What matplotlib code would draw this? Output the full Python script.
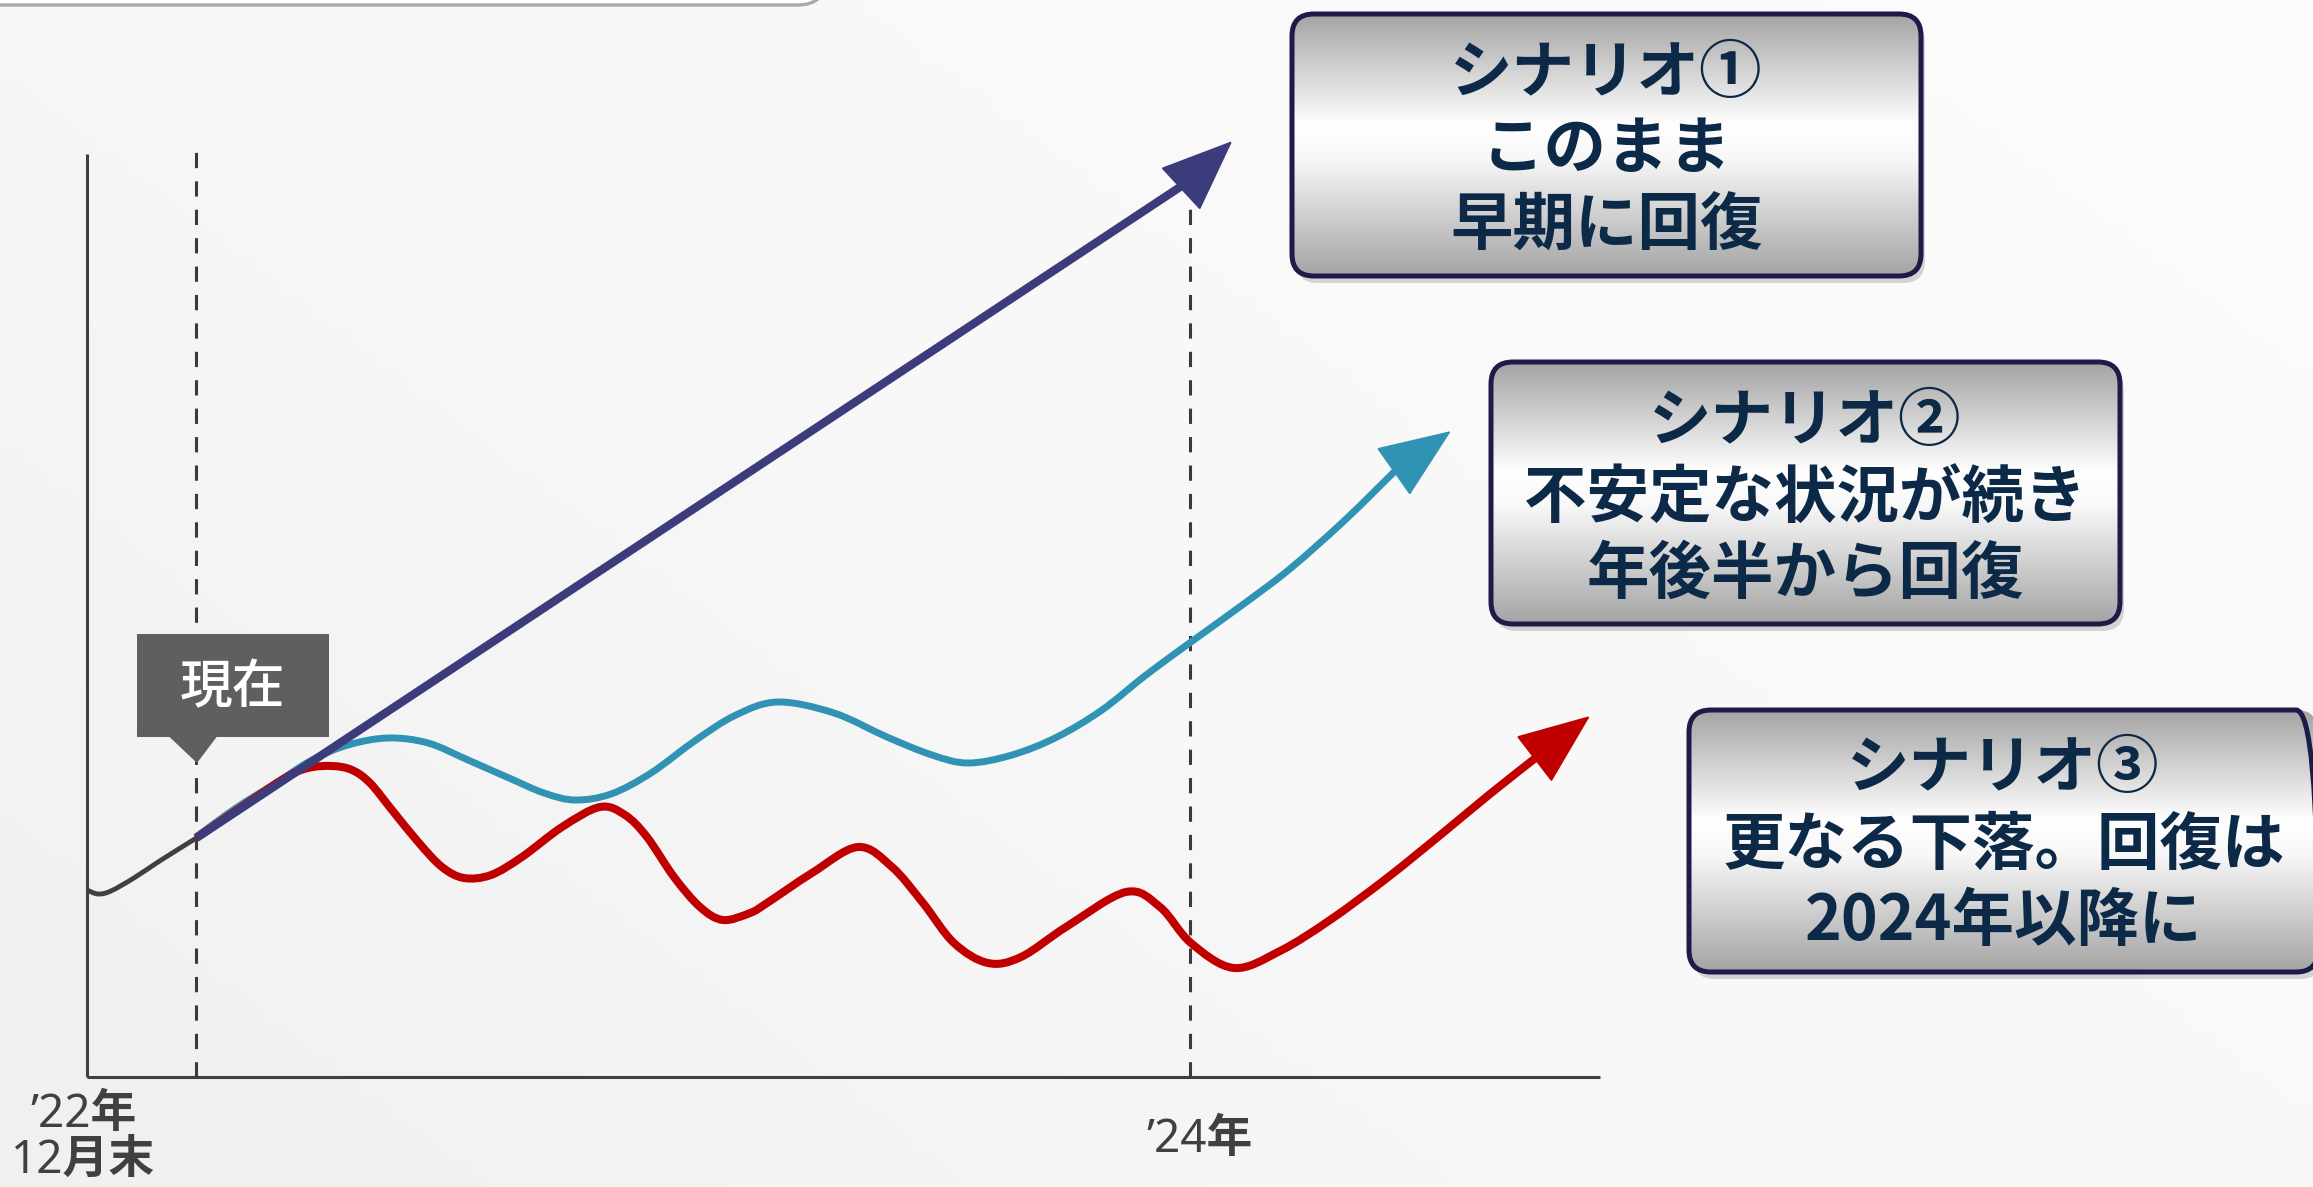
import numpy as np
import matplotlib.pyplot as plt
from matplotlib.patches import FancyBboxPatch, Polygon, Rectangle, PathPatch
from matplotlib.path import Path
from matplotlib.colors import LinearSegmentedColormap

plt.rcParams['font.family'] = ['Noto Sans CJK JP', 'DejaVu Sans']

W, H = 2313, 1187

# x: months after end of Dec 2022 ('24年 = 12), y: index level (x-axis = 0)
now_x = 1.19
y2024_x = 12.0
axis_top = 92.3
axis_right = 16.46
now_line_top = 92.9
y2024_line_top = 92.0

# actual path until now
actual_x = [0.0, 0.12, 0.26, 0.51, 0.79, 1.19]
actual_y = [18.7, 18.3, 18.6, 19.9, 21.6, 23.9]

# scenario 1: straight recovery
s1_x = [1.19, 11.99]
s1_y = [23.9, 89.6]
s1_tip = (12.46, 93.6)

# scenario 2: unstable, recovery in second half
s2_x = [1.186, 1.621, 2.056, 2.448, 2.839, 3.275, 3.710, 4.145, 4.591, 4.972,
        5.309, 5.701, 6.136, 6.625, 7.060, 7.517, 8.127, 8.703, 9.193, 9.584,
        10.063, 10.553, 11.042, 11.521, 12.010, 12.598, 13.098, 13.686, 14.252]
s2_y = [24.0, 26.9, 29.4, 31.7, 33.2, 33.9, 33.4, 31.7, 29.9, 28.4,
        27.7, 28.3, 30.4, 33.7, 36.2, 37.5, 36.4, 34.0, 32.2, 31.4,
        32.2, 34.0, 36.7, 40.2, 43.5, 47.4, 50.9, 55.7, 60.8]
s2_tip = (14.839, 64.6)

# scenario 3: further decline, recovery after 2024
s3_x = [1.186, 1.664, 2.154, 2.404, 2.665, 2.883, 3.079, 3.318, 3.612, 3.862,
        4.101, 4.395, 4.732, 5.168, 5.581, 5.853, 6.092, 6.386, 6.669, 6.919,
        7.213, 7.398, 7.887, 8.388, 8.758, 9.095, 9.432, 9.802, 10.161, 10.651,
        11.303, 11.673, 12.010, 12.478, 12.979, 13.523, 14.143, 14.763, 15.263,
        15.786]
s3_y = [23.9, 26.9, 29.9, 30.9, 31.1, 30.7, 29.4, 26.7, 23.4, 21.0,
        19.9, 20.2, 22.0, 25.0, 27.0, 26.2, 24.0, 20.0, 17.0, 15.7,
        16.4, 17.4, 20.4, 23.0, 21.0, 17.4, 13.4, 11.4, 12.0, 15.0,
        18.5, 17.0, 13.4, 10.9, 12.6, 15.7, 19.9, 24.5, 28.3,
        32.1]
s3_tip = (16.351, 36.1)

x_labels = ['’22年\n12月末', '’24年']

box_lines = [['シナリオ①', 'このまま', '早期に回復'],
             ['シナリオ②', '不安定な状況が続き', '年後半から回復'],
             ['シナリオ③', '更なる下落。回復は', '2024年以降に']]

navy = '#3c3c7c'
teal = '#3193b4'
red = '#c00000'
axis_c = '#404040'


# smooth curve through the read points (Catmull-Rom as cubic Bezier path)
def smooth_path(xs, ys):
    pts = np.column_stack([xs, ys])
    verts = [pts[0]]
    codes = [Path.MOVETO]
    for i in range(len(pts) - 1):
        p0 = pts[i - 1] if i > 0 else pts[i]
        p1 = pts[i]
        p2 = pts[i + 1]
        p3 = pts[i + 2] if i + 2 < len(pts) else pts[i + 1]
        verts += [p1 + (p2 - p0) / 6, p2 - (p3 - p1) / 6, p2]
        codes += [Path.CURVE4] * 3
    return Path(verts, codes)


fig = plt.figure(figsize=(W / 100, H / 100), dpi=100)
ax = fig.add_axes([0, 0, 1, 1])
ax.set_axis_off()

# background
bg_cmap = LinearSegmentedColormap.from_list('bg', ['#f0f0f0', '#f8f8f8', '#fcfcfc'])
gx, gy = np.meshgrid(np.linspace(0, 1, 200), np.linspace(0, 1, 100))
ax.imshow(gx * 0.6 + (1 - gy) * 0.4, cmap=bg_cmap, extent=[0, 1, 0, 1],
          transform=ax.transAxes, aspect='auto', zorder=0, origin='upper')

# partial frame at top-left
ax.add_patch(FancyBboxPatch((-0.02, 1 - 5 / H), 0.377, 0.1,
                            boxstyle='round,pad=0,rounding_size=0.012',
                            mutation_aspect=W / H, transform=ax.transAxes,
                            fc='#ffffff', ec='#a9a9a9', lw=2.4, zorder=1,
                            clip_on=False))

# axes lines
ax.plot([0, 0], [0, axis_top], color=axis_c, lw=2.2, zorder=2,
        solid_capstyle='butt')
ax.plot([0, axis_right], [0, 0], color=axis_c, lw=2.2, zorder=2,
        solid_capstyle='butt')
ax.plot([now_x, now_x], [0, now_line_top], color='#3a3a3a', lw=2.2,
        dashes=(5, 4.3), zorder=2)
ax.plot([y2024_x, y2024_x], [0, y2024_line_top], color='#3a3a3a', lw=2.2,
        dashes=(5, 4.3), zorder=2)

# curves
ax.add_patch(PathPatch(smooth_path(actual_x, actual_y), fill=False,
                       ec='#404040', lw=3.5, zorder=3, capstyle='butt'))
ax.add_patch(PathPatch(smooth_path(s2_x, s2_y), fill=False, ec=teal, lw=5.0,
                       zorder=3, joinstyle='round', capstyle='butt'))
ax.add_patch(PathPatch(smooth_path(s3_x, s3_y), fill=False, ec=red, lw=5.8,
                       zorder=3.2, joinstyle='round', capstyle='butt'))
ax.plot(s1_x, s1_y, color=navy, lw=6.0, zorder=3.5, solid_capstyle='butt')


def head(start, tip, color):
    ax.annotate('', xy=tip, xytext=start, xycoords='data',
                arrowprops=dict(arrowstyle='-|>,head_length=2.4,head_width=0.97',
                                color=color, lw=1.5, shrinkA=0, shrinkB=0,
                                mutation_scale=20), zorder=3.6)


head((s1_x[-1], s1_y[-1]), s1_tip, navy)
head((s2_x[-1], s2_y[-1]), s2_tip, teal)
head((s3_x[-1], s3_y[-1]), s3_tip, red)

# "現在" marker
ax.add_patch(Rectangle((0.544, 34.0), 2.089, 10.3, fc='#5f5f5f', ec='none', zorder=4))
ax.add_patch(Polygon([(0.892, 34.05), (1.414, 34.05), (1.197, 31.4)], closed=True,
                     fc='#5f5f5f', ec='none', zorder=4))
ax.text(1.577, 38.9, '現在', color='white', fontsize=38, fontweight='medium',
        ha='center', va='center', zorder=5)

# x labels
lab_font = ['Noto Sans', 'Noto Sans CJK JP']
ax.text(-0.04, -6.1, x_labels[0], color=axis_c, fontsize=33, fontweight='bold',
        ha='center', va='center', family=lab_font, linespacing=1.0)
ax.text(12.10, -6.3, x_labels[1], color=axis_c, fontsize=33, fontweight='bold',
        ha='center', va='center', family=lab_font)

# scenario boxes
box_cmap = LinearSegmentedColormap.from_list(
    'box', [(0, '#a4a4a4'), (0.42, '#ffffff'), (0.55, '#f8f8f8'), (1, '#a4a4a4')])
grad = np.linspace(0, 1, 256).reshape(-1, 1)

box_px = [(1292, 14), (1491, 362), (1689, 710)]
box_w, box_h = 629, 262
line_mid_px = [150, 498, 845]
line_gap = 76.5

for (bx, by), lines, mid in zip(box_px, box_lines, line_mid_px):
    x0 = bx / W
    y0 = 1 - (by + box_h) / H
    w = box_w / W
    h = box_h / H
    style = 'round,pad=0,rounding_size=0.0095'
    shadow = FancyBboxPatch((x0 + 4 / W, y0 - 7 / H), w, h, boxstyle=style,
                            mutation_aspect=W / H, transform=ax.transAxes,
                            fc='#8c8c8c', ec='none', alpha=0.35, zorder=5)
    ax.add_patch(shadow)
    frame = FancyBboxPatch((x0, y0), w, h, boxstyle=style, mutation_aspect=W / H,
                           transform=ax.transAxes, fc='none', ec='#1d1b47',
                           lw=3.6, zorder=7)
    ax.add_patch(frame)
    img = ax.imshow(grad, cmap=box_cmap, extent=[x0, x0 + w, y0, y0 + h],
                    transform=ax.transAxes, aspect='auto', zorder=6, origin='upper')
    img.set_clip_path(frame)
    for i, line in enumerate(lines):
        ty = 1 - (mid + (i - 1) * line_gap) / H
        ax.text(x0 + w / 2, ty, line, transform=ax.transAxes, ha='center',
                va='center', fontsize=45, fontweight='bold', color='#0c2a47',
                zorder=8)

ax.set_xlim(-87 / 91.92, 2226 / 91.92)
ax.set_ylim(-11.0, 107.7)

fig.savefig('out.png', dpi=100)
